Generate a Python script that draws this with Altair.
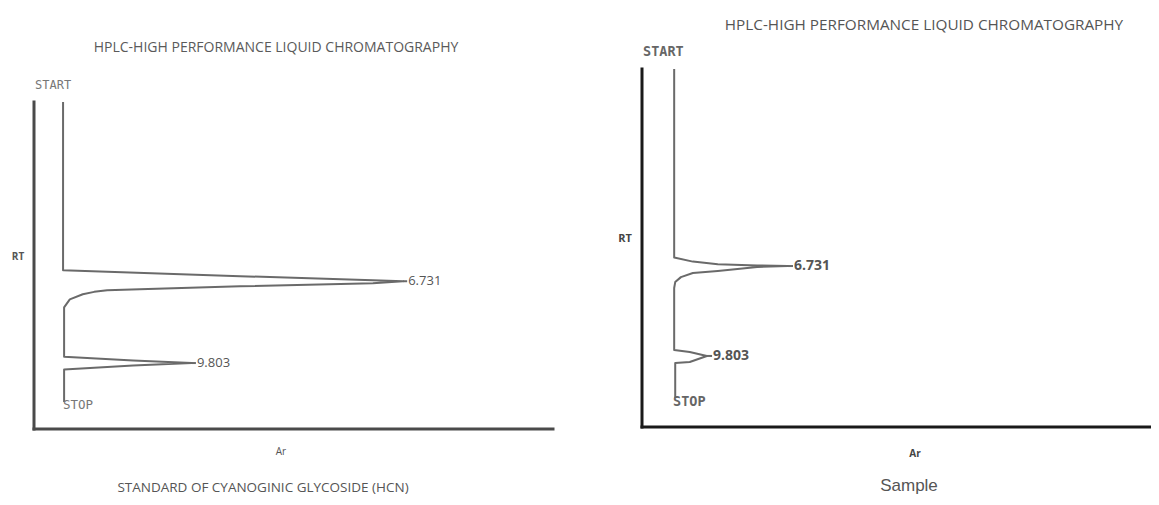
import altair as alt
import pandas as pd

# ---- data ----
# Standard (left panel): retention time (min, downwards) and detector signal (arbitrary units)
std_rt = [0.0, 6.32, 6.54, 6.69, 6.731, 6.81, 6.92, 7.03, 7.07, 7.13, 7.22, 7.41, 7.71,
          9.57, 9.71, 9.803, 9.90, 10.05, 11.27]
std_sig = [5.6, 5.6, 39.7, 65.3, 71.1, 65.3, 39.7, 20.4, 14.1, 11.6, 9.4, 6.9, 5.8,
           5.8, 19.1, 30.4, 19.1, 5.8, 5.8]

# Sample (right panel)
smp_rt = [0.0, 6.44, 6.58, 6.67, 6.71, 6.731, 6.76, 6.90, 6.97, 7.11, 7.28, 7.48,
          9.60, 9.67, 9.803, 10.01, 10.04, 11.24]
smp_sig = [6.2, 6.2, 9.8, 14.6, 22.2, 28.1, 22.2, 14.6, 9.8, 7.5, 6.4, 6.2,
           6.2, 9.2, 12.5, 9.2, 6.4, 6.4]

peak_rt = [6.731, 9.803]
peak_labels = ["6.731", "9.803"]
std_peak_sig = [71.1, 30.4]
smp_peak_sig = [28.1, 12.5]

title_text = "HPLC-HIGH PERFORMANCE LIQUID CHROMATOGRAPHY"
std_caption = "STANDARD OF CYANOGINIC  GLYCOSIDE (HCN)"
smp_caption = "Sample"

W, H = 1143, 489


def panel(rt, sig, peak_sig, y_max, x_range, y_range, trace_color, axis_color,
          axis_w, label_font, label_size, label_weight, gap):
    xs = alt.Scale(domain=[0, 100], range=x_range, nice=False, zero=False)
    ys = alt.Scale(domain=[0, y_max], range=y_range, nice=False, zero=False)
    trace_df = pd.DataFrame({"rt": rt, "sig": sig, "i": list(range(len(rt)))})
    peak_df = pd.DataFrame({"rt": peak_rt, "sig": peak_sig, "lab": peak_labels})
    peak_df["lead"] = peak_df["sig"] + gap
    axis_df = pd.DataFrame({"x0": [0, 0], "x1": [0, 100], "y0": [0, y_max], "y1": [y_max, y_max]})

    axes = alt.Chart(axis_df).mark_rule(color=axis_color, strokeWidth=axis_w, strokeCap="square").encode(
        x=alt.X("x0:Q", scale=xs, axis=None),
        x2="x1:Q",
        y=alt.Y("y0:Q", scale=ys, axis=None),
        y2="y1:Q",
    )
    trace = alt.Chart(trace_df).mark_line(color=trace_color, strokeWidth=2, strokeJoin="round").encode(
        x=alt.X("sig:Q", scale=xs, axis=None),
        y=alt.Y("rt:Q", scale=ys, axis=None),
        order="i:Q",
    )
    lead = alt.Chart(peak_df).mark_rule(color=trace_color, strokeWidth=2).encode(
        x=alt.X("sig:Q", scale=xs, axis=None),
        x2="lead:Q",
        y=alt.Y("rt:Q", scale=ys, axis=None),
    )
    labels = alt.Chart(peak_df).mark_text(
        align="left", baseline="middle", font=label_font, fontSize=label_size,
        fontWeight=label_weight, color="#555555", dx=1,
    ).encode(
        x=alt.X("lead:Q", scale=xs, axis=None),
        y=alt.Y("rt:Q", scale=ys, axis=None),
        text="lab:N",
    )
    return alt.layer(axes, trace, lead, labels)


def txt(t, x, y, size, font="Open Sans", weight="normal", color="#555555", align="center"):
    return alt.Chart(alt.Data(values=[{}])).mark_text(
        text=t, font=font, fontSize=size, fontWeight=weight, color=color,
        align=align, baseline="middle",
    ).encode(x=alt.value(x), y=alt.value(y))


left = panel(std_rt, std_sig, std_peak_sig, 12.28, [26, 545], [94, 421],
             "#6a6a6a", "#4a4a4a", 3, "Open Sans", 13, "normal", 0.8)
right = panel(smp_rt, smp_sig, smp_peak_sig, 12.23, [634, 1153], [61, 419],
              "#6a6a6a", "#1a1a1a", 3, "Open Sans", 14, "bold", 1.0)

texts = alt.layer(
    txt(title_text, 268, 40, 14, color="#5a5a5a"),
    txt(title_text, 916, 17, 15.3, color="#555555"),
    txt("START", 27, 77, 12, font="DejaVu Sans Mono", color="#777777", align="left"),
    txt("START", 635, 44, 13.5, font="DejaVu Sans Mono", weight="bold", color="#666666", align="left"),
    txt("STOP", 55, 397, 12.5, font="DejaVu Sans Mono", color="#777777", align="left"),
    txt("STOP", 665, 394, 13.5, font="DejaVu Sans Mono", weight="bold", color="#666666", align="left"),
    txt("RT", 10, 249, 10, weight="bold", color="#555555"),
    txt("RT", 617, 231, 11, weight="bold", color="#444444"),
    txt("Ar", 273, 444, 10, color="#555555"),
    txt("Ar", 907, 446, 10, weight="bold", color="#444444"),
    txt(std_caption, 255, 480, 13.5, color="#555555"),
    txt(smp_caption, 901, 478, 17, font="Liberation Sans", color="#555555"),
)

chart = alt.layer(left, right, texts).resolve_scale(
    x="independent", y="independent"
).properties(
    width=W, height=H, autosize="none", padding=0
).configure_view(stroke=None)

chart.save("out.html", embed_options={"renderer": "svg", "actions": False})
